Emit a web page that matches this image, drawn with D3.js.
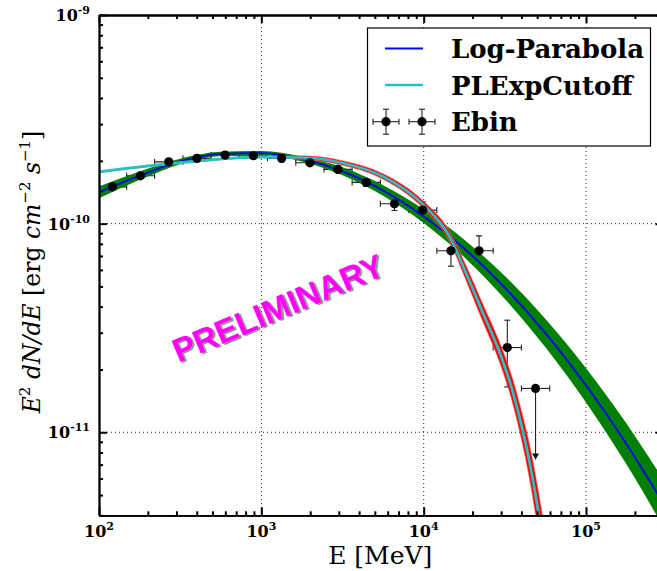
<!DOCTYPE html>
<html>
<head>
<meta charset="utf-8">
<script src="https://cdn.jsdelivr.net/npm/d3@7"></script>
<style>
  body { margin: 0; background: #fff; }
  svg { display: block; }
</style>
</head>
<body>
<div id="vis"></div>
<script>
// Ebin points (MeV, erg cm^-2 s^-1)
const binEdges = [99, 148, 220, 329, 490, 731, 1091, 1630, 2430, 3623, 5408, 8073, 12050, 17989, 26792, 39994, 59703];
const ebinEnergy = [121, 180, 269, 401, 598, 893, 1333, 1991, 2965, 4426, 6607, 9863, 14723, 21928, 32734, 48865];
const ebinFlux = [1.501e-10, 1.695e-10, 1.978e-10, 2.055e-10, 2.131e-10, 2.115e-10, 2.055e-10, 1.957e-10,
  1.820e-10, 1.576e-10, 1.245e-10, 1.161e-10, 7.41e-11, 7.41e-11, 2.547e-11, 1.622e-11];
const ebinLo = [1.460e-10, 1.658e-10, 1.935e-10, 2.010e-10, 2.084e-10, 2.069e-10, 2.010e-10, 1.903e-10,
  1.761e-10, 1.508e-10, 1.156e-10, 1.039e-10, 6.25e-11, 6.17e-11, 1.649e-11, 7.40e-12];
const ebinHi = [1.543e-10, 1.733e-10, 2.022e-10, 2.101e-10, 2.178e-10, 2.162e-10, 2.101e-10, 2.011e-10,
  1.881e-10, 1.647e-10, 1.341e-10, 1.272e-10, 8.49e-11, 8.74e-11, 3.445e-11, 1.622e-11];
const ebinUpperLimit = [false, false, false, false, false, false, false, false,
  false, false, false, false, false, false, false, true];

// Log-Parabola model and its band
const lpEnergy = [100, 178, 316, 562, 1000, 1778, 3162, 5623, 10000, 17783, 31623, 56234, 100000, 177828, 316228];
const lpFlux = [1.413e-10, 1.698e-10, 1.986e-10, 2.158e-10, 2.178e-10, 2.042e-10, 1.782e-10, 1.442e-10,
  1.086e-10, 7.60e-11, 4.94e-11, 2.985e-11, 1.679e-11, 8.77e-12, 4.25e-12];
const lpBandHi = [1.507e-10, 1.778e-10, 2.046e-10, 2.208e-10, 2.228e-10, 2.099e-10, 1.862e-10, 1.528e-10,
  1.172e-10, 8.375e-11, 5.610e-11, 3.491e-11, 2.028e-11, 1.099e-11, 5.534e-12];
const lpBandLo = [1.324e-10, 1.622e-10, 1.928e-10, 2.109e-10, 2.128e-10, 1.986e-10, 1.706e-10, 1.361e-10,
  1.007e-10, 6.902e-11, 4.355e-11, 2.553e-11, 1.390e-11, 6.998e-12, 3.258e-12];

// PLExpCutoff model and its band
const pleEnergy = [100, 316, 1000, 1778, 3162, 5623, 10000, 14454, 18197, 22909, 29174, 35237, 40551, 45709, 50933, 56234];
const pleFlux = [1.770e-10, 1.959e-10, 2.084e-10, 2.075e-10, 1.954e-10, 1.683e-10, 1.227e-10, 8.650e-11,
  5.821e-11, 3.802e-11, 2.443e-11, 1.585e-11, 1.035e-11, 6.683e-12, 4.121e-12, 2.512e-12];
const pleBandHi = [1.786e-10, 1.977e-10, 2.103e-10, 2.114e-10, 2.004e-10, 1.734e-10, 1.279e-10, 9.163e-11,
  6.309e-11, 4.188e-11, 2.729e-11, 1.811e-11, 1.216e-11, 8.128e-12, 5.188e-12, 3.236e-12];
const pleBandLo = [1.754e-10, 1.941e-10, 2.065e-10, 2.037e-10, 1.905e-10, 1.633e-10, 1.177e-10, 8.166e-11,
  5.370e-11, 3.451e-11, 2.187e-11, 1.387e-11, 8.809e-12, 5.495e-12, 3.273e-12, 1.950e-12];

const xMajor = [100, 1000, 10000, 100000];
const xMajorExp = ["2", "3", "4", "5"];
const yMajor = [1e-9, 1e-10, 1e-11];
const yMajorExp = ["-9", "-10", "-11"];
const legendLabels = ["Log-Parabola", "PLExpCutoff", "Ebin"];

const W = 657, H = 571;
const pLeft = 99, pRight = 663.5, pTop = 15, pBottom = 515.3;

const svg = d3.select("#vis").append("svg")
  .attr("width", W).attr("height", H)
  .style("background", "#fff");

const x = d3.scaleLog().domain([100, 3e5]).range([pLeft, pRight]);
const y = d3.scaleLog().domain([4e-12, 1e-9]).range([pBottom, pTop]);

svg.append("defs").append("clipPath").attr("id", "plot")
  .append("rect").attr("x", pLeft).attr("y", pTop)
  .attr("width", pRight - pLeft).attr("height", pBottom - pTop);

// minor tick values
const xMinor = [];
[100, 1000, 10000, 100000].forEach(d => { for (let k = 2; k <= 9; k++) if (d * k <= 3e5) xMinor.push(d * k); });
const yMinor = [];
[1e-12, 1e-11, 1e-10].forEach(d => { for (let k = 2; k <= 9; k++) if (d * k >= 4e-12) yMinor.push(d * k); });

// grid
const grid = svg.append("g").attr("stroke", "#222").attr("stroke-width", 1)
  .attr("stroke-dasharray", "1,3");
xMajor.slice(1).forEach(v => {
  grid.append("line").attr("x1", x(v)).attr("x2", x(v)).attr("y1", pTop).attr("y2", pBottom);
});
yMajor.slice(1).forEach(v => {
  grid.append("line").attr("x1", pLeft).attr("x2", pRight).attr("y1", y(v)).attr("y2", y(v));
});

const plot = svg.append("g").attr("clip-path", "url(#plot)");

// error bars under the bands
const eb = plot.append("g").attr("stroke", "#222").attr("stroke-width", 1.1).attr("fill", "none");
ebinEnergy.forEach((e, i) => {
  const cx = x(e), cy = y(ebinFlux[i]);
  const x0 = x(binEdges[i]), x1 = x(binEdges[i + 1]);
  eb.append("line").attr("x1", x0).attr("x2", x1).attr("y1", cy).attr("y2", cy);
  eb.append("line").attr("x1", x0).attr("x2", x0).attr("y1", cy - 3).attr("y2", cy + 3);
  eb.append("line").attr("x1", x1).attr("x2", x1).attr("y1", cy - 3).attr("y2", cy + 3);
  const yl = y(ebinLo[i]), yh = y(ebinHi[i]);
  eb.append("line").attr("x1", cx).attr("x2", cx).attr("y1", yh).attr("y2", yl);
  if (ebinUpperLimit[i]) {
    plot.append("path")
      .attr("d", `M${cx - 3.5},${yl - 6}L${cx + 3.5},${yl - 6}L${cx},${yl}Z`)
      .attr("fill", "#111");
  } else {
    eb.append("line").attr("x1", cx - 3).attr("x2", cx + 3).attr("y1", yh).attr("y2", yh);
    eb.append("line").attr("x1", cx - 3).attr("x2", cx + 3).attr("y1", yl).attr("y2", yl);
  }
});

const area = d3.area().x(d => x(d.e)).y0(d => y(d.lo)).y1(d => y(d.hi)).curve(d3.curveMonotoneX);
const line = d3.line().x(d => x(d.e)).y(d => y(d.f)).curve(d3.curveMonotoneX);

const lp = lpEnergy.map((e, i) => ({ e, f: lpFlux[i], lo: lpBandLo[i], hi: lpBandHi[i] }));
const ple = pleEnergy.map((e, i) => ({ e, f: pleFlux[i], lo: pleBandLo[i], hi: pleBandHi[i] }));

plot.append("path").datum(lp).attr("d", area).attr("fill", "#007f00");
plot.append("path").datum(lp).attr("d", line).attr("fill", "none")
  .attr("stroke", "#0000ff").attr("stroke-width", 1.8);

plot.append("path").datum(ple).attr("d", area).attr("fill", "#ff0000")
  .attr("stroke", "#ff7070").attr("stroke-width", 0.6);
plot.append("path").datum(ple).attr("d", line).attr("fill", "none")
  .attr("stroke", "#22c2c6").attr("stroke-width", 2.7);

// points on top
plot.append("g").selectAll("circle").data(ebinEnergy).join("circle")
  .attr("cx", d => x(d)).attr("cy", (d, i) => y(ebinFlux[i]))
  .attr("r", 4.6).attr("fill", "#000");

// axes
function styleAxis(g) {
  g.selectAll(".domain").attr("stroke", "#000").attr("stroke-width", 1.8);
  g.selectAll(".tick line").attr("stroke", "#000").attr("stroke-width", 2);
  g.selectAll(".tick text").remove();
}
const axes = [
  [d3.axisBottom(x), `translate(0,${pBottom})`, xMajor, xMinor],
  [d3.axisTop(x), `translate(0,${pTop})`, xMajor, xMinor],
  [d3.axisLeft(y), `translate(${pLeft},0)`, yMajor, yMinor],
  [d3.axisRight(y), `translate(${pRight},0)`, yMajor, yMinor]
];
axes.forEach(([ax, tr, major, minor]) => {
  svg.append("g").attr("transform", tr)
    .call(ax.tickValues(minor).tickSize(-4).tickSizeOuter(0).tickFormat(""))
    .call(styleAxis);
  svg.append("g").attr("transform", tr)
    .call(ax.tickValues(major).tickSize(-8).tickSizeOuter(0).tickFormat(""))
    .call(styleAxis);
});

// tick labels
const tickFont = "'DejaVu Serif', serif";
xMajor.forEach((v, i) => {
  const t = svg.append("text").attr("x", x(v)).attr("y", pBottom + 22)
    .attr("text-anchor", "middle").attr("font-family", tickFont)
    .attr("font-weight", "bold").attr("font-size", 16).attr("fill", "#000");
  t.append("tspan").text("10");
  t.append("tspan").attr("dy", -7).attr("font-size", 11).text(xMajorExp[i]);
});
yMajor.forEach((v, i) => {
  const t = svg.append("text").attr("x", pLeft - 9).attr("y", y(v) + 6)
    .attr("text-anchor", "end").attr("font-family", tickFont)
    .attr("font-weight", "bold").attr("font-size", 16).attr("fill", "#000");
  t.append("tspan").text("10");
  t.append("tspan").attr("dy", -7).attr("font-size", 11).text(yMajorExp[i]);
});

// axis titles
svg.append("text")
  .attr("x", (pLeft + pRight) / 2 - 1).attr("y", 564)
  .attr("text-anchor", "middle").attr("font-family", tickFont)
  .attr("font-size", 25).text("E [MeV]");

const ylab = svg.append("text")
  .attr("transform", "translate(40,272) rotate(-90)")
  .attr("text-anchor", "middle").attr("font-family", tickFont)
  .attr("font-size", 23.5);
ylab.append("tspan").attr("font-style", "italic").text("E");
ylab.append("tspan").attr("font-size", 15).attr("dy", -10).text("2");
ylab.append("tspan").attr("font-style", "italic").attr("dy", 10).text(" dN/dE");
ylab.append("tspan").text(" [erg ");
ylab.append("tspan").attr("font-style", "italic").text("cm");
ylab.append("tspan").attr("font-size", 15).attr("dy", -10).text("\u22122");
ylab.append("tspan").attr("font-style", "italic").attr("dy", 10).text("  s");
ylab.append("tspan").attr("font-size", 15).attr("dy", -10).text("\u22121");
ylab.append("tspan").attr("dy", 10).text("]");

// preliminary stamp
const stamp = svg.append("g").attr("transform", "translate(278,308) rotate(-23)");
stamp.append("text").attr("x", 1.5).attr("y", 1.8)
  .attr("text-anchor", "middle").attr("dominant-baseline", "central")
  .attr("font-family", "'Liberation Sans', Arial, sans-serif").attr("font-weight", "bold")
  .attr("font-size", 33).attr("fill", "#777").attr("opacity", 0.8).text("PRELIMINARY");
stamp.append("text")
  .attr("text-anchor", "middle").attr("dominant-baseline", "central")
  .attr("font-family", "'Liberation Sans', Arial, sans-serif").attr("font-weight", "bold")
  .attr("font-size", 33).attr("fill", "#ff00ff").text("PRELIMINARY");

// legend
const lg = svg.append("g");
lg.append("rect").attr("x", 367.5).attr("y", 28).attr("width", 283).attr("height", 118)
  .attr("fill", "#fff").attr("stroke", "#000").attr("stroke-width", 1.2);
const rowY = [48.5, 85, 121.7];
lg.append("line").attr("x1", 385).attr("x2", 423).attr("y1", rowY[0]).attr("y2", rowY[0])
  .attr("stroke", "#0000ff").attr("stroke-width", 2);
lg.append("line").attr("x1", 385).attr("x2", 423).attr("y1", rowY[1]).attr("y2", rowY[1])
  .attr("stroke", "#22c2c6").attr("stroke-width", 2.7);
[386, 422].forEach(cx => {
  const cy = rowY[2];
  const g = lg.append("g").attr("stroke", "#222").attr("stroke-width", 1.1);
  g.append("line").attr("x1", cx - 13).attr("x2", cx + 13).attr("y1", cy).attr("y2", cy);
  g.append("line").attr("x1", cx).attr("x2", cx).attr("y1", cy - 12.5).attr("y2", cy + 12.5);
  g.append("line").attr("x1", cx - 13).attr("x2", cx - 13).attr("y1", cy - 3).attr("y2", cy + 3);
  g.append("line").attr("x1", cx + 13).attr("x2", cx + 13).attr("y1", cy - 3).attr("y2", cy + 3);
  g.append("line").attr("x1", cx - 3).attr("x2", cx + 3).attr("y1", cy - 12.5).attr("y2", cy - 12.5);
  g.append("line").attr("x1", cx - 3).attr("x2", cx + 3).attr("y1", cy + 12.5).attr("y2", cy + 12.5);
  lg.append("circle").attr("cx", cx).attr("cy", cy).attr("r", 4.6).attr("fill", "#000");
});
legendLabels.forEach((t, i) => {
  lg.append("text").attr("x", 451).attr("y", rowY[i] + 9.5)
    .attr("font-family", tickFont).attr("font-weight", "bold")
    .attr("font-size", 26).attr("fill", "#000").text(t);
});
</script>
</body>
</html>
